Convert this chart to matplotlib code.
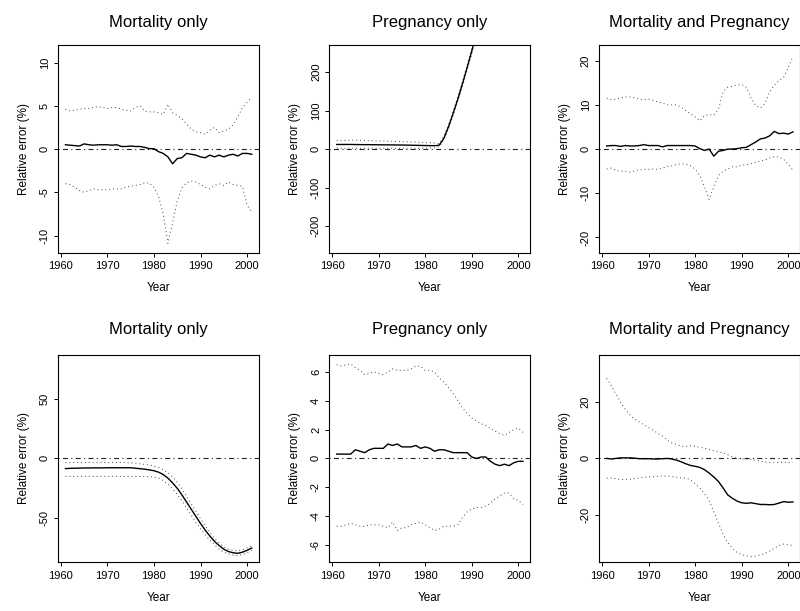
import matplotlib.pyplot as plt
import numpy as np

plt.rcParams['font.family'] = ['Liberation Sans', 'DejaVu Sans']
plt.rcParams['axes.unicode_minus'] = False

years = np.arange(1961, 2002)

# Top row
mort1_mean = [0.5, 0.45, 0.4, 0.35, 0.6, 0.5, 0.45, 0.5, 0.5, 0.5, 0.45, 0.5, 0.3, 0.3, 0.35, 0.3, 0.3, 0.2, 0.05, 0.05,
              -0.3, -0.5, -0.9, -1.7, -1.1, -1.0, -0.5, -0.6, -0.7, -0.9, -1.0, -0.7, -0.9, -0.7, -0.9, -0.7, -0.6, -0.8, -0.5, -0.5, -0.6]
mort1_hi = [4.6, 4.4, 4.5, 4.6, 4.7, 4.7, 4.8, 4.9, 4.8, 4.7, 4.8, 4.8, 4.6, 4.5, 4.4, 4.8, 5.0, 4.4, 4.3, 4.3,
            4.2, 4.0, 5.2, 4.2, 3.9, 3.5, 2.9, 2.3, 2.0, 1.9, 1.7, 2.2, 2.5, 1.9, 2.1, 2.3, 2.8, 3.7, 4.8, 5.4, 6.0]
mort1_lo = [-4.0, -4.1, -4.4, -4.8, -5.0, -4.8, -4.6, -4.7, -4.7, -4.7, -4.6, -4.6, -4.6, -4.4, -4.3, -4.2, -4.1, -3.9, -3.9, -4.4,
            -5.5, -7.5, -10.9, -8.5, -6.0, -4.5, -3.9, -3.7, -3.8, -4.1, -4.4, -4.6, -4.2, -4.0, -4.2, -3.8, -4.1, -4.2, -4.3, -6.5, -7.2]

preg1_mean = [12, 12, 12, 12, 11.8, 11.6, 11.5, 11.5, 11.3, 11.2, 11, 11, 10.8, 10.7, 10.5, 10.3, 10, 9.8, 9.5, 9.2,
              9, 8.8, 10, 28, 58, 93, 130, 170, 212, 255, 300, 345, 390, 435, 478, 520, 560, 598, 632, 662, 690]
preg1_hi = [22, 22, 22.5, 23, 23.5, 23, 22.5, 22, 21.5, 21, 21, 20.5, 20, 20, 19.5, 19, 18.5, 18, 17.5, 17,
            16.5, 16, 14, 33, 63, 98, 136, 176, 218, 262, 307, 352, 397, 442, 485, 527, 567, 605, 639, 669, 697]
preg1_lo = [2.5, 2, 2.5, 2, 2.5, 2, 2.5, 2, 2.5, 2, 2.5, 2, 2.5, 2, 2.5, 2, 2.5, 2, 2.5, 2.5,
            3, 3, 6, 24, 54, 88, 125, 164, 206, 248, 293, 338, 383, 428, 471, 513, 553, 591, 625, 655, 683]

both1_mean = [0.7, 0.8, 0.8, 0.6, 0.8, 0.7, 0.7, 0.8, 1.0, 0.8, 0.8, 0.8, 0.5, 0.8, 0.8, 0.8, 0.8, 0.8, 0.8, 0.7,
              0.1, -0.3, 0.0, -1.6, -0.5, -0.3, 0.0, 0.0, 0.1, 0.3, 0.4, 1.0, 1.6, 2.3, 2.5, 3.0, 4.0, 3.5, 3.6, 3.4, 3.9]
both1_hi = [11.5, 11.2, 11.3, 11.6, 11.8, 11.8, 11.6, 11.3, 11.2, 11.3, 11.0, 10.7, 10.4, 10.0, 10.0, 10.0, 9.5, 8.7, 8.0, 7.3,
            6.4, 7.6, 7.8, 7.7, 9.0, 13.0, 14.0, 14.2, 14.5, 14.6, 14.0, 11.5, 9.9, 9.3, 10.3, 13.0, 14.5, 15.5, 16.2, 18.5, 21.0]
both1_lo = [-4.5, -4.3, -4.8, -5.0, -5.0, -5.2, -4.9, -4.7, -4.6, -4.6, -4.5, -4.6, -4.3, -3.9, -3.8, -3.5, -3.3, -3.4, -3.8, -4.5,
            -6.0, -8.5, -11.4, -8.5, -6.0, -5.0, -4.5, -4.0, -4.0, -3.6, -3.6, -3.3, -3.0, -2.7, -2.5, -2.0, -1.7, -1.8, -2.3, -3.5, -4.8]

# Bottom row
mort2_mean = [-8.5, -8.3, -8.2, -8.1, -8.0, -8.0, -7.9, -7.9, -7.9, -7.8, -7.8, -7.8, -7.8, -7.8, -7.8, -8.2, -8.6, -9.0, -9.6, -10.3,
              -11.5, -13.5, -16.5, -20.5, -25, -30.5, -36.5, -42.5, -48.5, -54.5, -60, -65, -69.5, -73, -76, -78, -79, -79.5, -78.5, -77, -75]
mort2_hi = [-3.5, -3.5, -3.4, -3.5, -3.5, -3.4, -3.5, -3.5, -3.4, -3.5, -3.5, -3.5, -3.4, -3.5, -3.6, -4, -4.5, -5, -5.5, -6.5,
            -7.5, -9.5, -12, -15.5, -20, -25.5, -31.5, -38, -44, -50.5, -56.5, -62, -67, -71, -74, -76, -77, -77.5, -76.5, -75, -73]
mort2_lo = [-15, -15, -15, -15.1, -15, -15, -15, -15.1, -15, -15, -15, -15, -15.1, -15, -15, -15.1, -15.1, -15.2, -15.3, -15.5,
            -16.5, -18.5, -21.5, -25.5, -30, -35.5, -41.5, -47.5, -53.5, -59, -64, -68.5, -72.5, -76, -78.5, -80, -81, -81.5, -80.5, -79, -77]

preg2_mean = [0.3, 0.3, 0.3, 0.3, 0.6, 0.5, 0.4, 0.6, 0.7, 0.7, 0.7, 1.0, 0.9, 1.0, 0.8, 0.8, 0.8, 0.9, 0.7, 0.8,
              0.7, 0.5, 0.6, 0.6, 0.5, 0.4, 0.4, 0.4, 0.4, 0.1, 0.0, 0.1, 0.1, -0.2, -0.4, -0.5, -0.4, -0.5, -0.3, -0.2, -0.2]
preg2_hi = [6.5, 6.4, 6.5, 6.55, 6.3, 6.1, 5.8, 5.9, 6.0, 5.9, 5.8, 6.0, 6.2, 6.1, 6.1, 6.1, 6.2, 6.4, 6.4, 6.1,
            6.1, 6.0, 5.6, 5.3, 4.9, 4.5, 4.0, 3.5, 3.1, 2.8, 2.6, 2.4, 2.3, 2.1, 1.9, 1.7, 1.6, 1.8, 2.0, 2.1, 1.8]
preg2_lo = [-4.7, -4.7, -4.6, -4.5, -4.6, -4.7, -4.7, -4.6, -4.6, -4.6, -4.7, -4.8, -4.4, -5.0, -4.8, -4.8, -4.6, -4.5, -4.4, -4.6,
            -4.8, -5.0, -4.9, -4.7, -4.7, -4.7, -4.6, -4.1, -3.7, -3.5, -3.4, -3.4, -3.3, -3.1, -2.8, -2.6, -2.4, -2.4, -2.8, -2.9, -3.2]

both2_mean = [0, -0.2, 0, 0.2, 0.2, 0.2, 0.1, -0.1, -0.1, -0.1, -0.2, -0.2, -0.1, 0, -0.2, -0.6, -1.2, -1.9, -2.5, -2.8,
              -3.2, -4.0, -5.2, -6.6, -8.2, -10.5, -13.0, -14.2, -15.2, -15.8, -16.0, -15.8, -16.1, -16.4, -16.4, -16.5, -16.4, -15.9, -15.4, -15.6, -15.5]
both2_hi = [28.5, 26, 23, 20, 17.5, 15.5, 14, 13, 12, 11, 10, 9, 8, 6.5, 5.5, 5, 4.3, 4.3, 4.5, 4.3,
            4.0, 3.6, 3.2, 2.8, 2.4, 2.0, 1.3, 0.5, 0, -0.2, -0.3, -0.3, -0.6, -1.0, -1.3, -1.5, -1.5, -1.4, -1.3, -1.5, -1.4]
both2_lo = [-7, -7, -7.2, -7.5, -7.5, -7.4, -7.2, -7, -6.7, -6.6, -6.5, -6.4, -6.2, -6.3, -6.5, -6.7, -6.9, -7.0, -7.6, -9.0,
            -10.5, -12.5, -15, -19, -23, -27, -30, -32, -33.5, -34.3, -34.7, -35, -34.8, -34.4, -33.8, -33, -32, -31, -30.5, -30.8, -31]

titles = ['Mortality only', 'Pregnancy only', 'Mortality and Pregnancy'] * 2
series = [(mort1_mean, mort1_hi, mort1_lo), (preg1_mean, preg1_hi, preg1_lo), (both1_mean, both1_hi, both1_lo),
          (mort2_mean, mort2_hi, mort2_lo), (preg2_mean, preg2_hi, preg2_lo), (both2_mean, both2_hi, both2_lo)]
ylims = [12, 270, 23.5, 87, 7.2, 37]
yticks = [[-10, -5, 0, 5, 10], [-200, -100, 0, 100, 200], [-20, -10, 0, 10, 20],
          [-50, 0, 50], [-6, -4, -2, 0, 2, 4, 6], [-20, 0, 20]]

fig = plt.figure(figsize=(8, 6.11), dpi=100, facecolor='white')
lefts = [0.0725, 0.4116, 0.749]
bottoms = [0.586, 0.0797]
w, h = 0.2515, 0.340

for i in range(6):
    row, col = divmod(i, 3)
    ax = fig.add_axes([lefts[col], bottoms[row], w, h])
    mean, hi, lo = series[i]
    ax.axhline(0, color='#222222', lw=0.8, linestyle=(0, (1, 3, 4.5, 3)))
    ax.plot(years, hi, color='#444444', lw=0.7, linestyle=(0, (1, 3)))
    ax.plot(years, lo, color='#444444', lw=0.7, linestyle=(0, (1, 3)))
    ax.plot(years, mean, color='black', lw=1.0)
    ax.set_xlim(1959.4, 2002.6)
    ax.set_ylim(-ylims[i], ylims[i])
    ax.set_xticks([1960, 1970, 1980, 1990, 2000])
    ax.set_yticks(yticks[i])
    for lbl in ax.get_yticklabels():
        lbl.set_rotation(90)
        lbl.set_va('center')
    ax.tick_params(direction='out', length=3, width=0.7, labelsize=8, pad=3)
    for sp in ax.spines.values():
        sp.set_linewidth(0.8)
    ax.set_xlabel('Year', fontsize=8.5, labelpad=8)
    ax.set_ylabel('Relative error (%)', fontsize=8.5, labelpad=7)
    ax.set_title(titles[i], fontsize=12, pad=13 if row == 0 else 15)

plt.savefig('out.png', dpi=100, facecolor='white')
